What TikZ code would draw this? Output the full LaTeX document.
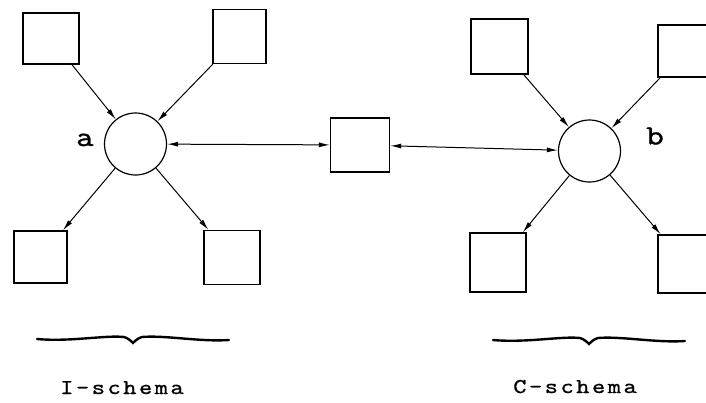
\documentclass[tikz,border=0pt]{standalone}
\usepackage{fontspec}
\usetikzlibrary{arrows.meta}
\newfontfamily\typefont[FakeStretch=1.2, FakeBold=0.8, LetterSpace=12]{lmmono10-regular.otf}

\begin{document}
\begin{tikzpicture}[x=1pt,y=-1pt]
	\tikzstyle{every node}+=[inner sep=0pt]
	\tikzstyle{box}=[draw, line width=1.4pt, minimum width=55pt, minimum height=54pt]
	\tikzstyle{hub}=[draw, circle, line width=1.2pt, minimum size=62pt]
	\tikzstyle{link}=[line width=1pt, -{Latex[length=11pt,width=5pt]}]
	\tikzstyle{dlink}=[line width=1pt, {Latex[length=11pt,width=5pt]}-{Latex[length=11pt,width=5pt]}]
	\tikzstyle{brc}=[line width=2.4pt, line cap=round]
	\tikzstyle{lbl}=[anchor=base, font=\typefont\fontsize{28}{28}\selectfont]
	\tikzstyle{schematext}=[anchor=base, font=\typefont\fontsize{21}{21}\selectfont]
	\clip (0,0) rectangle (706,402);
	% I-schema
	\node [box, minimum width=56pt, minimum height=51pt] (i1) at (51,38.5) {};
	\node [box, minimum width=53pt] (i2) at (239.5,36.5) {};
	\node [box, minimum width=53pt, minimum height=52pt] (i3) at (40.5,257) {};
	\node [box, minimum width=56pt] (i4) at (232,257.5) {};
	\node [hub] (a) at (135.5,144) {};
	\node [lbl] (la) at (85,146) {a};
	\draw [link] (i1) -- (a);
	\draw [link] (i2) -- (a);
	\draw [link] (a) -- (i3);
	\draw [link] (a) -- (i4);
	% C-schema
	\node [box, minimum width=57pt, minimum height=55pt] (c1) at (499.5,46.5) {};
	\node [box, minimum width=56pt, minimum height=52pt] (c2) at (686,51) {};
	\node [box, minimum width=56pt, minimum height=59pt] (c3) at (498,262.5) {};
	\node [box, minimum width=56pt, minimum height=58pt] (c4) at (686,264) {};
	\node [hub] (b) at (589.5,151) {};
	\node [lbl] (lb) at (655,144.5) {b};
	\draw [link] (c1) -- (b);
	\draw [link] (c2) -- (b);
	\draw [link] (b) -- (c3);
	\draw [link] (b) -- (c4);
	% middle
	\node [box, minimum width=59pt] (m) at (360,145) {};
	\draw [dlink] (a) -- (m);
	\draw [dlink] (m) -- (b);
	% braces
	\draw [brc] (37,339) .. controls (70,342) and (105,335) .. (124,337)
		.. controls (128,338) and (131,341) .. (133,343)
		.. controls (135,341) and (138,338) .. (142,337)
		.. controls (165,335) and (200,342) .. (229,340);
	\draw [brc] (493,340) .. controls (526,343) and (561,336) .. (580,338)
		.. controls (584,339) and (587,342) .. (589,344)
		.. controls (591,342) and (594,339) .. (598,338)
		.. controls (621,336) and (656,343) .. (685,341);
	\node [schematext] (ti) at (122,394) {I-schema};
	\node [schematext] (tc) at (575,393) {C-schema};
\end{tikzpicture}
\end{document}
